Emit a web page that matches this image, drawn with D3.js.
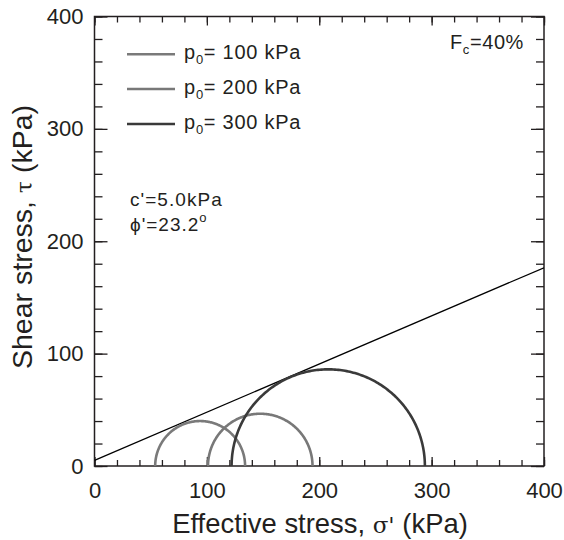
<!DOCTYPE html>
<html><head><meta charset="utf-8">
<script src="https://cdn.jsdelivr.net/npm/d3@7"></script>
<style>body{margin:0;background:#fff}svg{display:block}text{font-family:"Liberation Sans",Arial,sans-serif;fill:#231f20}</style>
</head><body>
<svg id="c" width="564" height="540"></svg>
<script>
const xTicks = [0, 100, 200, 300, 400];
const yTicks = [0, 100, 200, 300, 400];
const seriesNames = ["100", "200", "300"];
const sigma3 = [54, 101, 122];
const sigma1 = [134, 194, 294];
const seriesColors = ["#7a7a7a", "#787878", "#3a3a3a"];
const cohesion = 5.0;
const phiDeg = 23.2;

const svg = d3.select("#c");
const L = 94.5, R = 544, T = 16.5, B = 466;
const x = d3.scaleLinear().domain([0, 400]).range([L, R]);
const y = d3.scaleLinear().domain([0, 400]).range([B, T]);
const axCol = "#231f20";

const g = svg.append("g");
svg.append("defs").append("clipPath").attr("id", "clip")
  .append("rect").attr("x", L).attr("y", T).attr("width", R - L).attr("height", B - T);

const minor = d3.range(0, 401, 20);
function drawAxis(axis) {
  return sel => {
    sel.call(axis);
    sel.attr("font-size", 22).attr("font-family", "Liberation Sans, Arial, sans-serif");
    sel.select(".domain").remove();
    sel.selectAll("line").attr("stroke", axCol).attr("stroke-width", 1.3);
    sel.selectAll("text").attr("fill", axCol);
  };
}
g.append("g").attr("transform", `translate(0,${B})`)
  .call(drawAxis(d3.axisBottom(x).tickValues(minor).tickSize(-6).tickFormat("")));
g.append("g").attr("transform", `translate(0,${B})`)
  .call(drawAxis(d3.axisBottom(x).tickValues(xTicks).tickSize(-9).tickPadding(16).tickFormat(d3.format("d"))));
g.append("g").attr("transform", `translate(0,${T})`)
  .call(drawAxis(d3.axisTop(x).tickValues(minor).tickSize(-6).tickFormat("")));
g.append("g").attr("transform", `translate(0,${T})`)
  .call(drawAxis(d3.axisTop(x).tickValues(xTicks).tickSize(-9).tickFormat("")));
g.append("g").attr("transform", `translate(${L},0)`)
  .call(drawAxis(d3.axisLeft(y).tickValues(minor).tickSize(-8).tickFormat("")));
g.append("g").attr("transform", `translate(${L},0)`)
  .call(drawAxis(d3.axisLeft(y).tickValues(yTicks).tickSize(-13).tickPadding(11).tickFormat(d3.format("d"))));
g.append("g").attr("transform", `translate(${R},0)`)
  .call(drawAxis(d3.axisRight(y).tickValues(minor).tickSize(-8).tickFormat("")));
g.append("g").attr("transform", `translate(${R},0)`)
  .call(drawAxis(d3.axisRight(y).tickValues(yTicks).tickSize(-13).tickFormat("")));

g.append("rect").attr("x", L).attr("y", T).attr("width", R - L).attr("height", B - T)
  .attr("fill", "none").attr("stroke", axCol).attr("stroke-width", 1.5);

const plot = svg.append("g").attr("clip-path", "url(#clip)");
const tanPhi = Math.tan(phiDeg * Math.PI / 180);
const env = [0, 400].map(s => [s, cohesion + s * tanPhi]);
plot.append("path").attr("d", d3.line().x(d => x(d[0])).y(d => y(d[1]))(env))
  .attr("fill", "none").attr("stroke", "#000").attr("stroke-width", 1.3);

sigma3.forEach((s3, i) => {
  const c = (s3 + sigma1[i]) / 2, r = (sigma1[i] - s3) / 2;
  const pts = d3.range(0, 181, 1).map(a => {
    const t = a * Math.PI / 180;
    return [c - r * Math.cos(t), r * Math.sin(t)];
  });
  plot.append("path").attr("d", d3.line().x(d => x(d[0])).y(d => y(d[1]))(pts))
    .attr("fill", "none").attr("stroke", seriesColors[i]).attr("stroke-width", 2.6);
});

const legY = [54.3, 89, 124];
seriesNames.forEach((n, i) => {
  svg.append("line").attr("x1", 127).attr("x2", 175).attr("y1", legY[i]).attr("y2", legY[i])
    .attr("stroke", seriesColors[i]).attr("stroke-width", 2.6);
  const t = svg.append("text").attr("x", 184).attr("y", legY[i] + 5).attr("font-size", 20).attr("letter-spacing", 0.75);
  t.append("tspan").text("p");
  t.append("tspan").attr("font-size", 13).attr("dy", 5).text("0");
  t.append("tspan").attr("dy", -5).text("= " + n + " kPa");
});

const fc = svg.append("text").attr("x", 524).attr("y", 49.3).attr("text-anchor", "end").attr("font-size", 20).attr("letter-spacing", 0.6);
fc.append("tspan").text("F");
fc.append("tspan").attr("font-size", 13).attr("dy", 5).text("c");
fc.append("tspan").attr("dy", -5).text("=40%");

svg.append("text").attr("x", 130).attr("y", 205.5).attr("font-size", 19).attr("letter-spacing", 1.05).text("c'=" + cohesion.toFixed(1) + "kPa");
const ph = svg.append("text").attr("x", 130).attr("y", 230.7).attr("font-size", 19).attr("letter-spacing", 1.0);
ph.append("tspan").text("\u03d5'=" + phiDeg.toFixed(1));
ph.append("tspan").attr("font-size", 13).attr("dy", -9).text("o");

const xt = svg.append("text").attr("x", 320).attr("y", 532.5).attr("text-anchor", "middle").attr("font-size", 27.4);
xt.append("tspan").text("Effective stress, ");
xt.append("tspan").attr("font-family", "DejaVu Serif, serif").attr("font-size", 23).text("\u03c3'");
xt.append("tspan").text(" (kPa)");
const yt = svg.append("text").attr("transform", `translate(32,237) rotate(-90)`)
  .attr("text-anchor", "middle").attr("font-size", 28.5);
yt.append("tspan").text("Shear stress, ");
yt.append("tspan").attr("font-family", "DejaVu Serif, serif").attr("font-size", 22).text("\u03c4");
yt.append("tspan").text(" (kPa)");
</script>
</body></html>
